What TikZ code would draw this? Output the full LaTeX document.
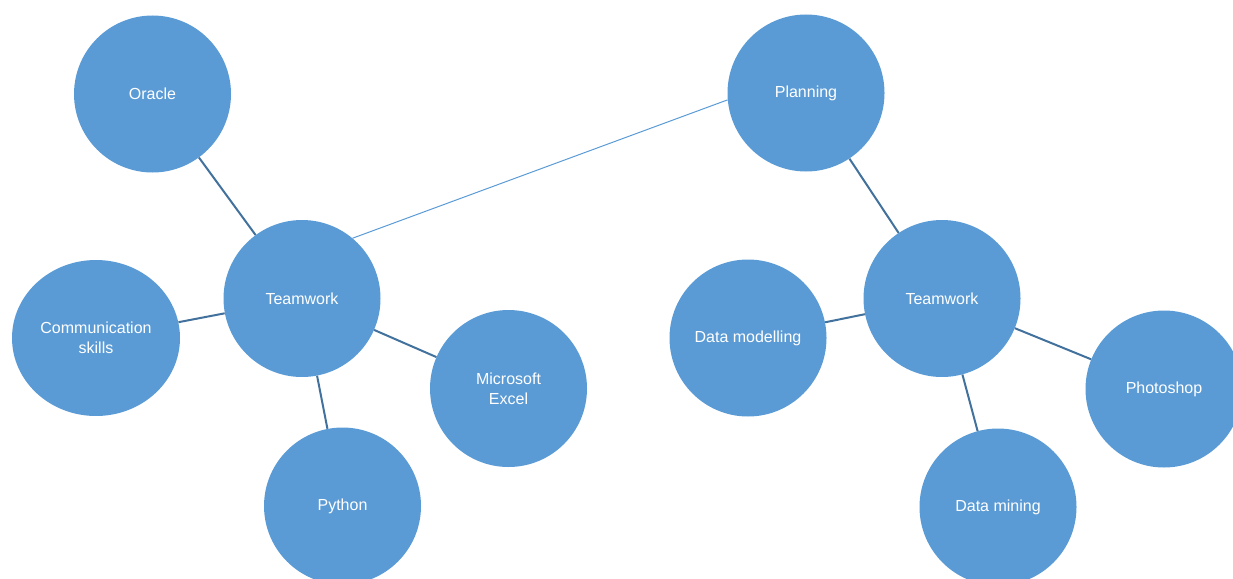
\documentclass[tikz,border=0pt]{standalone}
\usepackage{fontspec}
\setmainfont{Liberation Sans}
\usetikzlibrary{shapes.geometric}
\definecolor{bubble}{HTML}{5B9BD5}
\definecolor{link}{HTML}{41719C}
\begin{document}
\begin{tikzpicture}[x=1pt,y=-1pt,
  bub/.style={circle,fill=bubble,minimum size=157pt,inner sep=0pt,text=white,
    font=\fontsize{16}{20}\selectfont,align=center},
  oval/.style={bub,ellipse,minimum width=168pt,minimum height=156pt},
  conn/.style={draw=link,line width=2pt},
  thinconn/.style={draw=bubble,line width=1pt}]
\useasboundingbox (0,0) rectangle (1233,578);
% left cluster
\node[bub] (oracle) at (152.5,94) {Oracle};
\node[bub] (tl) at (302,298.5) {Teamwork};
\node[oval] (comm) at (96,338) {Communication\\skills};
\node[bub] (excel) at (508.5,388.5) {Microsoft\\Excel};
\node[bub] (python) at (342.5,506) {Python};
% right cluster
\node[bub] (plan) at (806,93) {Planning};
\node[bub] (tr) at (942,298.5) {Teamwork};
\node[bub] (dmod) at (748,338) {Data modelling};
\node[bub] (photo) at (1164,389) {Photoshop};
\node[bub] (dmin) at (998,507) {Data mining};
% connectors
\draw[conn] (oracle) -- (tl);
\draw[conn] (comm) -- (tl);
\draw[conn] (tl) -- (excel);
\draw[conn] (tl) -- (python);
\draw[thinconn] (tl.50) -- (plan.185);
\draw[conn] (plan) -- (tr);
\draw[conn] (dmod) -- (tr);
\draw[conn] (tr) -- (photo);
\draw[conn] (tr) -- (dmin);
\end{tikzpicture}
\end{document}
